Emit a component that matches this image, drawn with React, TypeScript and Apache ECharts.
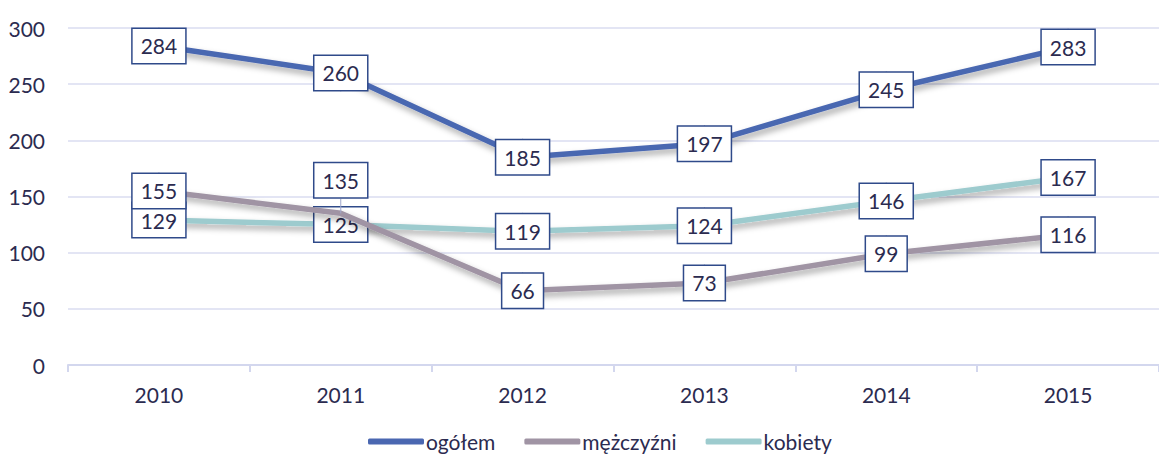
import React, { useEffect, useRef } from "react";
import * as echarts from "echarts";

const years = ["2010", "2011", "2012", "2013", "2014", "2015"];
const ogolem = [284, 260, 185, 197, 245, 283];
const mezczyzni = [155, 135, 66, 73, 99, 116];
const kobiety = [129, 125, 119, 124, 146, 167];
const seriesNames = ["ogółem", "mężczyźni", "kobiety"];
const colors = ["#4A67B1", "#A094A4", "#9DCBCE"];

const FONT = "Lato, 'Open Sans', sans-serif";
const TEXT = "#2B2B50";

export default function App() {
  const ref = useRef<HTMLDivElement>(null);
  useEffect(() => {
    if (!ref.current) return;
    const chart = echarts.init(ref.current, undefined, { renderer: "svg" });
    const label = {
      show: true,
      position: "inside",
      backgroundColor: "#ffffff",
      borderColor: "#2F4A8A",
      borderWidth: 1.5,
      padding: [7, 8, 6, 8],
      fontSize: 21,
      fontFamily: FONT,
      color: TEXT,
    };
    const mk = (name: string, data: number[], color: string, z: number) => ({
      name,
      type: "line",
      data,
      z,
      showSymbol: true,
      symbol: "circle",
      symbolSize: 0.01,
      color,
      itemStyle: { color },
      lineStyle: {
        width: 5.5,
        color,
        shadowColor: "rgba(0,0,0,0.35)",
        shadowBlur: 6,
        shadowOffsetX: 2,
        shadowOffsetY: 4,
      },
      label,
      labelLine: { show: true, lineStyle: { color: "#A0A8CC", width: 1 } },
    });
    chart.setOption({
      animation: false,
      grid: { left: 68, top: 28, width: 1107, height: 337 },
      legend: {
        data: seriesNames.map((n) => ({ name: n, icon: "roundRect" })),
        left: 363,
        top: 426,
        itemWidth: 56,
        itemHeight: 6,
        itemGap: 29,
        textStyle: {
          fontSize: 21,
          lineHeight: 21,
          fontFamily: FONT,
          color: TEXT,
          padding: [0, 0, 0, -3],
        },
      },
      xAxis: {
        type: "category",
        data: years,
        boundaryGap: true,
        axisLine: { lineStyle: { color: "#D3D7EE", width: 2 } },
        axisTick: { show: true, length: 7, lineStyle: { color: "#D3D7EE", width: 2 } },
        axisLabel: { fontSize: 21, fontFamily: FONT, color: TEXT, margin: 19 },
      },
      yAxis: {
        type: "value",
        min: 0,
        max: 300,
        interval: 50,
        axisLine: { show: false },
        axisTick: { show: false },
        splitLine: { lineStyle: { color: "#DADDF1", width: 1.5 } },
        axisLabel: { fontSize: 21, fontFamily: FONT, color: TEXT, margin: 23 },
      },
      labelLayout: (params: any) =>
        params.seriesIndex === 1 && params.dataIndex === 1 ? { dy: -33 } : {},
      series: [
        mk(seriesNames[0], ogolem, colors[0], 4),
        mk(seriesNames[1], mezczyzni, colors[1], 3),
        mk(seriesNames[2], kobiety, colors[2], 2),
      ],
    });
    return () => chart.dispose();
  }, []);
  return (
    <div
      ref={ref}
      style={{ position: "fixed", left: 0, top: 0, width: 1159, height: 455, background: "#fff" }}
    />
  );
}
